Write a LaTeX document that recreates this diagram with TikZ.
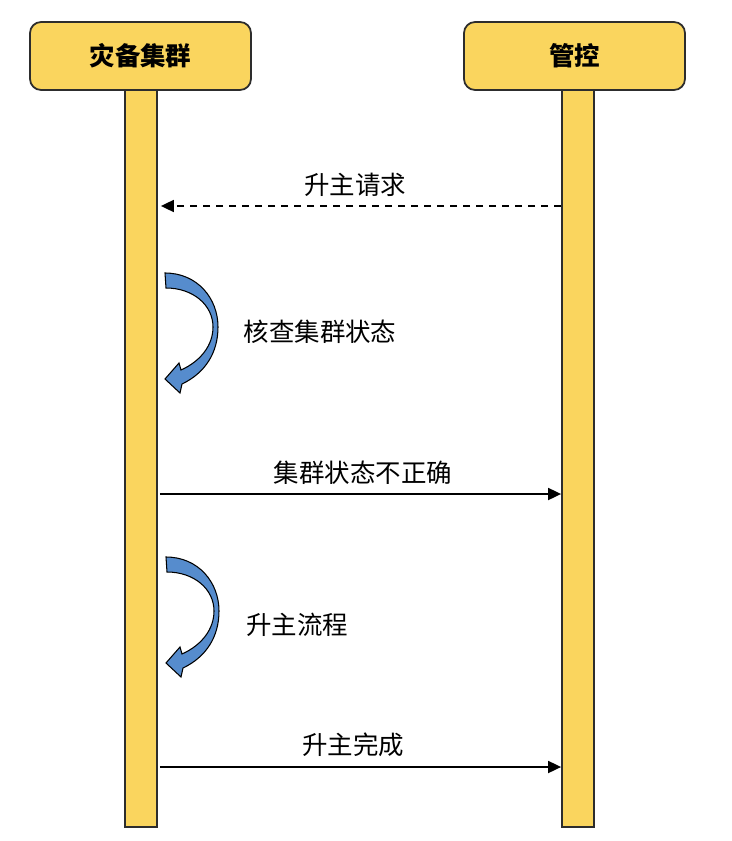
\documentclass[tikz,border=0pt]{standalone}
\usepackage{fontspec}
\setmainfont{Noto Sans CJK SC}
\usetikzlibrary{arrows.meta}
\definecolor{boxyellow}{RGB}{250,213,94}
\definecolor{turnblue}{RGB}{86,140,205}
\definecolor{edgegray}{RGB}{45,45,45}
\begin{document}
\begin{tikzpicture}[x=0.02cm,y=-0.02cm,
  header/.style={draw=edgegray,line width=1pt,fill=boxyellow,rounded corners=0.22cm,minimum width=4.42cm,minimum height=1.36cm,font=\fontsize{14.5}{17}\selectfont\bfseries},
  lifeline/.style={draw=edgegray,line width=1pt,fill=boxyellow,minimum width=0.64cm,minimum height=14.78cm},
  msg/.style={line width=1.1pt,-{Triangle[length=7.4pt,width=6.8pt]}},
  msgtext/.style={font=\fontsize{14.5}{17}\selectfont},
  turnarrow/.style={draw=black,line width=0.6pt,fill=turnblue},
  loopback/.pic={\filldraw[turnarrow] (0,0) .. controls (32,0) and (53,25) .. (53,54) .. controls (53,80) and (40,100) .. (17,111) -- (15,120) -- (0,106) -- (14,90) -- (16,97) .. controls (36,88) and (48,72) .. (48,54) .. controls (48,32) and (28,15) .. (1,15) -- cycle;}]
\useasboundingbox (0,0) rectangle (732,841);
% lifelines
\node[lifeline] (lbar) at (141,457.5) {};
\node[lifeline] (rbar) at (578,457.5) {};
\node[header] (dr) at (140.5,56) {灾备集群};
\node[header] (ctl) at (574.5,56) {管控};
% messages
\coordinate (askrow) at (0,206);
\coordinate (badrow) at (0,494);
\coordinate (donerow) at (0,767);
\node[msgtext] (ask) at (355,185) {升主请求};
\draw[msg,dash pattern=on 4pt off 3.4pt,shorten >=0.06cm] (rbar.west |- askrow) -- (lbar.east |- askrow);
\pic at (165,273) {loopback};
\node[msgtext] (check) at (320,332) {核查集群状态};
\node[msgtext] (bad) at (363,473) {集群状态不正确};
\draw[msg,shorten <=0.04cm] (lbar.east |- badrow) -- (rbar.west |- badrow);
\pic at (166,557) {loopback};
\node[msgtext] (promote) at (297,625) {升主流程};
\node[msgtext] (done) at (353,745) {升主完成};
\draw[msg,shorten <=0.04cm] (lbar.east |- donerow) -- (rbar.west |- donerow);
\end{tikzpicture}
\end{document}
